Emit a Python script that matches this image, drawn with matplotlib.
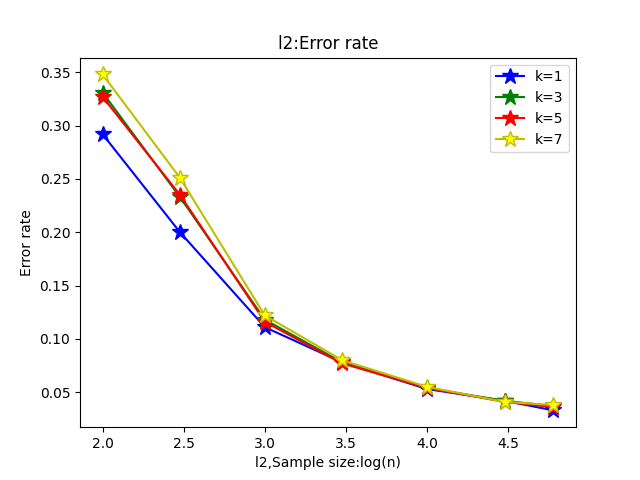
import numpy as np
import matplotlib
matplotlib.use('Agg')
import matplotlib.pyplot as plt

# sample sizes n -> plotted as log10(n)
sample_sizes = [100, 300, 1000, 3000, 10000, 30000, 60000]
err_k1 = [0.292, 0.200, 0.111, 0.078, 0.053, 0.042, 0.033]
err_k3 = [0.331, 0.233, 0.118, 0.078, 0.054, 0.042, 0.037]
err_k5 = [0.327, 0.235, 0.116, 0.077, 0.054, 0.041, 0.036]
err_k7 = [0.348, 0.251, 0.122, 0.080, 0.055, 0.041, 0.038]

x = np.log10(sample_sizes)

fig, ax = plt.subplots(figsize=(6.4, 4.8), dpi=100)
ax.plot(x, err_k1, 'b*-', markersize=12, label='k=1')
ax.plot(x, err_k3, 'g*-', markersize=12, label='k=3')
ax.plot(x, err_k5, 'r*-', markersize=12, label='k=5')
ax.plot(x, err_k7, 'y*-', markersize=12, markerfacecolor='yellow', label='k=7')

ax.set_title('l2:Error rate')
ax.set_xlabel('l2,Sample size:log(n)')
ax.set_ylabel('Error rate')
ax.legend(loc='upper right')

plt.savefig('out.png')
